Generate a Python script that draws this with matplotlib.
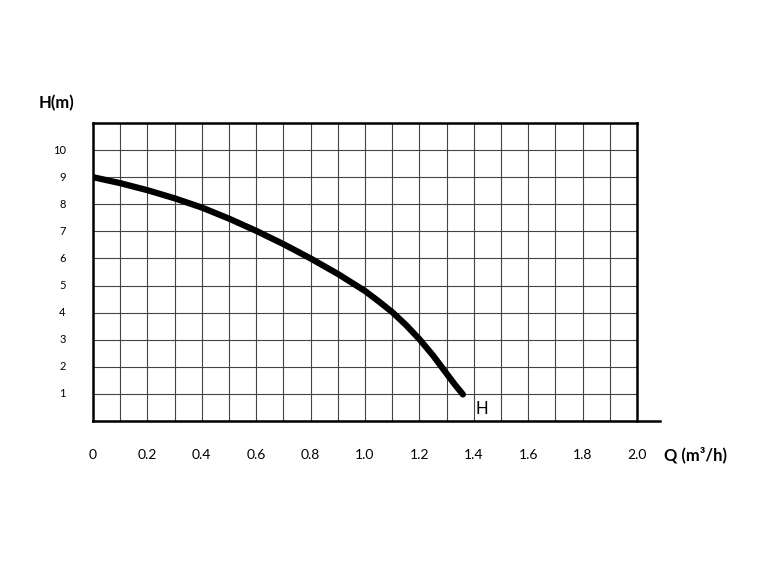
import matplotlib
matplotlib.use("Agg")
import matplotlib.pyplot as plt
import numpy as np

# Pump curve
flow = [0.0, 0.1, 0.2, 0.3, 0.4, 0.5, 0.6, 0.7, 0.8, 0.9, 1.0, 1.05, 1.1,
        1.15, 1.2, 1.25, 1.3, 1.33, 1.36]
head = [9.0, 8.78, 8.52, 8.22, 7.88, 7.47, 7.02, 6.53, 6.0, 5.43, 4.8, 4.42, 4.02,
        3.55, 3.02, 2.42, 1.75, 1.35, 0.98]
x_ticks = [0, 0.2, 0.4, 0.6, 0.8, 1.0, 1.2, 1.4, 1.6, 1.8, 2.0]
x_labels = ["0", "0.2", "0.4", "0.6", "0.8", "1.0", "1.2", "1.4", "1.6", "1.8", "2.0"]
y_ticks = list(range(1, 11))

plt.rcParams['font.family'] = ['Lato', 'DejaVu Sans']

fig = plt.figure(figsize=(7.74, 5.70), dpi=100)
ax = fig.add_axes([93/774, 1 - 421/570, 544/774, 298/570])

ax.set_xlim(0, 2.0)
ax.set_ylim(0, 11)
ax.set_xticks(np.arange(0, 2.01, 0.1))
ax.set_yticks(range(0, 12))
ax.grid(True, color="#444444", linewidth=0.8)
ax.tick_params(length=0, labelbottom=False, labelleft=False)
for s in ax.spines.values():
    s.set_linewidth(1.8)
    s.set_color("black")
ax.spines['bottom'].set_visible(False)
ax.plot([0, (660 - 93) / 544], [0, 0], transform=ax.transAxes,
        color="black", lw=1.8, clip_on=False)

ax.plot(flow, head, color="black", lw=4.5, solid_capstyle="round",
        solid_joinstyle="round")

for x, lab in zip(x_ticks, x_labels):
    ax.text(x, -1.25, lab, ha="center", va="center", fontsize=10)
for y in y_ticks:
    ax.text(-0.1, y, str(y), ha="right", va="center", fontsize=8)

ax.text(-0.2, 11.75, "H(m)", ha="left", va="center", fontsize=12, fontweight="bold")
ax.text(2.1, -1.25, "Q (m³/h)", ha="left", va="center", fontsize=12, fontweight="bold")
ax.text(1.43, 0.45, "H", ha="center", va="center", fontsize=12)

fig.savefig("out.png", dpi=100)
